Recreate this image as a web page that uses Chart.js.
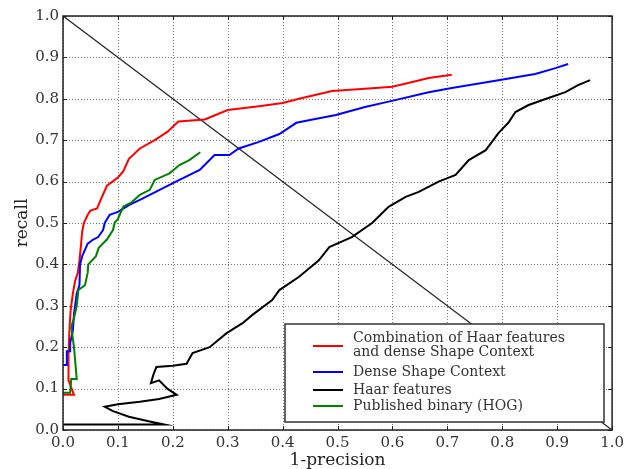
<!DOCTYPE html>
<html>
<head>
<meta charset="utf-8">
<script src="https://cdn.jsdelivr.net/npm/chart.js@4"></script>
<style>
  html, body { margin: 0; padding: 0; background: #fff; }
  #wrap { width: 628px; height: 469px; }
</style>
</head>
<body>
<div id="wrap"><canvas id="prChart" width="628" height="469"></canvas></div>
<script>
// tick labels
var tickValues = [0.0, 0.1, 0.2, 0.3, 0.4, 0.5, 0.6, 0.7, 0.8, 0.9, 1.0];

// series names (legend order)
var seriesNames = ["Combination of Haar features\nand dense Shape Context", "Dense Shape Context", "Haar features", "Published binary (HOG)"];

// Combination of Haar features and dense Shape Context
var combX = [0, 0.02, 0.01, 0.01, 0.012, 0.014, 0.018, 0.022, 0.027, 0.03, 0.033, 0.035, 0.038, 0.045, 0.05, 0.062, 0.07, 0.08, 0.09, 0.1, 0.11, 0.12, 0.14, 0.167, 0.19, 0.21, 0.258, 0.3, 0.357, 0.4, 0.43, 0.49, 0.55, 0.6, 0.64, 0.666, 0.708];
var combY = [0.085, 0.085, 0.12, 0.18, 0.25, 0.29, 0.33, 0.36, 0.38, 0.41, 0.45, 0.48, 0.5, 0.52, 0.53, 0.535, 0.56, 0.59, 0.6, 0.61, 0.625, 0.655, 0.68, 0.7, 0.72, 0.745, 0.75, 0.773, 0.782, 0.79, 0.8, 0.819, 0.824, 0.829, 0.842, 0.85, 0.858];

// Dense Shape Context
var denseX = [0, 0.007, 0.007, 0.013, 0.013, 0.018, 0.02, 0.025, 0.03, 0.031, 0.035, 0.045, 0.055, 0.064, 0.073, 0.076, 0.085, 0.1, 0.12, 0.14, 0.176, 0.212, 0.249, 0.267, 0.276, 0.303, 0.32, 0.357, 0.394, 0.425, 0.45, 0.497, 0.55, 0.599, 0.666, 0.708, 0.793, 0.86, 0.897, 0.92];
var denseY = [0.157, 0.157, 0.19, 0.19, 0.21, 0.24, 0.28, 0.33, 0.35, 0.4, 0.42, 0.45, 0.46, 0.466, 0.483, 0.5, 0.52, 0.527, 0.543, 0.556, 0.58, 0.604, 0.628, 0.652, 0.664, 0.664, 0.68, 0.696, 0.715, 0.742, 0.749, 0.761, 0.78, 0.795, 0.816, 0.826, 0.845, 0.86, 0.874, 0.884];

// Haar features
var haarX = [0, 0.185, 0.16, 0.12, 0.09, 0.076, 0.1, 0.14, 0.175, 0.207, 0.19, 0.175, 0.16, 0.165, 0.17, 0.2, 0.225, 0.236, 0.267, 0.298, 0.327, 0.345, 0.381, 0.394, 0.43, 0.466, 0.485, 0.526, 0.563, 0.593, 0.624, 0.648, 0.684, 0.715, 0.739, 0.77, 0.793, 0.811, 0.824, 0.848, 0.884, 0.915, 0.938, 0.96];
var haarY = [0.013, 0.013, 0.02, 0.032, 0.046, 0.056, 0.062, 0.068, 0.075, 0.085, 0.1, 0.12, 0.113, 0.135, 0.152, 0.155, 0.16, 0.186, 0.2, 0.234, 0.258, 0.278, 0.314, 0.338, 0.37, 0.41, 0.442, 0.466, 0.5, 0.539, 0.563, 0.575, 0.6, 0.616, 0.652, 0.676, 0.717, 0.742, 0.768, 0.785, 0.802, 0.816, 0.833, 0.845];

// Published binary (HOG)
var hogX = [0, 0.013, 0.015, 0.025, 0.02, 0.015, 0.02, 0.025, 0.028, 0.04, 0.045, 0.046, 0.06, 0.065, 0.08, 0.091, 0.094, 0.1, 0.11, 0.125, 0.14, 0.158, 0.167, 0.194, 0.212, 0.23, 0.25];
var hogY = [0.09, 0.09, 0.123, 0.123, 0.2, 0.25, 0.27, 0.3, 0.338, 0.35, 0.38, 0.4, 0.42, 0.44, 0.46, 0.483, 0.5, 0.51, 0.54, 0.55, 0.568, 0.58, 0.604, 0.62, 0.64, 0.652, 0.671];

// diagonal reference line
var diagX = [0, 1];
var diagY = [1, 0];

var seriesColors = ["#ff0000", "#0000ff", "#000000", "#008000"];

function toPoints(xs, ys) {
    return xs.map(function (x, i) { return { x: x, y: ys[i] }; });
}

// dotted grid behind the curves
var gridPlugin = {
    id: "dotGrid",
    beforeDatasetsDraw: function (chart) {
        var ctx = chart.ctx;
        var a = chart.chartArea;
        var xs = chart.scales.x, ys = chart.scales.y;
        ctx.save();
        ctx.strokeStyle = "#777";
        ctx.lineWidth = 1;
        ctx.setLineDash([1, 2]);
        tickValues.forEach(function (v) {
            var px = Math.round(xs.getPixelForValue(v)) + 0.5;
            var py = Math.round(ys.getPixelForValue(v)) + 0.5;
            ctx.beginPath();
            ctx.moveTo(px, a.top); ctx.lineTo(px, a.bottom);
            ctx.moveTo(a.left, py); ctx.lineTo(a.right, py);
            ctx.stroke();
        });
        ctx.restore();
    }
};

// frame, inward ticks and the boxed legend drawn like the original figure
var framePlugin = {
    id: "frame",
    afterDatasetsDraw: function (chart) {
        var ctx = chart.ctx;
        var a = chart.chartArea;
        var xs = chart.scales.x, ys = chart.scales.y;
        ctx.save();
        ctx.strokeStyle = "#222";
        ctx.lineWidth = 1;
        tickValues.forEach(function (v) {
            var px = Math.round(xs.getPixelForValue(v)) + 0.5;
            var py = Math.round(ys.getPixelForValue(v)) + 0.5;
            ctx.beginPath();
            ctx.moveTo(px, a.bottom); ctx.lineTo(px, a.bottom - 4);
            ctx.moveTo(px, a.top); ctx.lineTo(px, a.top + 4);
            ctx.moveTo(a.left, py); ctx.lineTo(a.left + 4, py);
            ctx.moveTo(a.right, py); ctx.lineTo(a.right - 4, py);
            ctx.stroke();
        });
        ctx.lineWidth = 1.5;
        ctx.strokeStyle = "#222";
        ctx.strokeRect(a.left, a.top, a.right - a.left, a.bottom - a.top);

        // legend box
        var bx = 285, by = 324, bw = 319, bh = 98;
        ctx.fillStyle = "#fff";
        ctx.fillRect(bx, by, bw, bh);
        ctx.strokeStyle = "#333";
        ctx.lineWidth = 1.5;
        ctx.strokeRect(bx, by, bw, bh);

        var rows = [
            { lines: seriesNames[0].split("\n"), y: 338, lineY: 346 },
            { lines: [seriesNames[1]], y: 372, lineY: 372 },
            { lines: [seriesNames[2]], y: 390, lineY: 390 },
            { lines: [seriesNames[3]], y: 406, lineY: 406 }
        ];
        ctx.font = "14px 'DejaVu Serif'";
        ctx.textBaseline = "middle";
        ctx.textAlign = "left";
        rows.forEach(function (r, i) {
            ctx.strokeStyle = seriesColors[i];
            ctx.lineWidth = 2;
            ctx.beginPath();
            ctx.moveTo(313, r.lineY);
            ctx.lineTo(343, r.lineY);
            ctx.stroke();
            ctx.fillStyle = "#333";
            r.lines.forEach(function (t, j) {
                ctx.fillText(t, 353, r.y + j * 14);
            });
        });
        ctx.restore();
    }
};

document.addEventListener("DOMContentLoaded", function () {
    var ctx = document.getElementById("prChart").getContext("2d");
    var allX = [combX, denseX, haarX, hogX];
    var allY = [combY, denseY, haarY, hogY];
    var datasets = [];
    datasets.push({
        label: "diagonal",
        data: toPoints(diagX, diagY),
        borderColor: "#222",
        borderWidth: 1.3,
        order: 10
    });
    for (var i = 0; i < 4; i++) {
        datasets.push({
            label: seriesNames[i],
            data: toPoints(allX[i], allY[i]),
            borderColor: seriesColors[i],
            borderWidth: 2,
            order: 4 - i
        });
    }

    new Chart(ctx, {
        type: "scatter",
        data: { datasets: datasets },
        options: {
            responsive: false,
            animation: false,
            showLine: true,
            elements: {
                point: { radius: 0, hoverRadius: 0 },
                line: { tension: 0, borderJoinStyle: "miter" }
            },
            layout: { padding: { top: 16, right: 14, left: 0, bottom: 0 } },
            plugins: {
                legend: { display: false },
                tooltip: { enabled: false }
            },
            scales: {
                x: {
                    type: "linear",
                    min: 0,
                    max: 1,
                    afterFit: function (s) { s.height = 39; },
                    afterBuildTicks: function (s) {
                        s.ticks = tickValues.map(function (v) { return { value: v }; });
                    },
                    ticks: {
                        padding: 4,
                        color: "#333",
                        font: { family: "DejaVu Serif", size: 15 },
                        callback: function (v) { return v.toFixed(1); }
                    },
                    grid: { display: false, drawTicks: false },
                    border: { display: false },
                    title: {
                        display: true,
                        text: "1-precision",
                        color: "#222",
                        font: { family: "DejaVu Serif", size: 17, lineHeight: 1 },
                        padding: { top: 0, bottom: 0 }
                    }
                },
                y: {
                    type: "linear",
                    min: 0,
                    max: 1,
                    afterFit: function (s) { s.width = 63; },
                    afterBuildTicks: function (s) {
                        s.ticks = tickValues.map(function (v) { return { value: v }; });
                    },
                    ticks: {
                        padding: 4,
                        color: "#333",
                        font: { family: "DejaVu Serif", size: 15 },
                        callback: function (v) { return v.toFixed(1); }
                    },
                    grid: { display: false, drawTicks: false },
                    border: { display: false },
                    title: {
                        display: true,
                        text: "recall",
                        color: "#222",
                        font: { family: "DejaVu Serif", size: 17, lineHeight: 1.2 },
                        padding: { top: 12, bottom: 0 }
                    }
                }
            }
        },
        plugins: [gridPlugin, framePlugin]
    });
});
</script>
</body>
</html>
